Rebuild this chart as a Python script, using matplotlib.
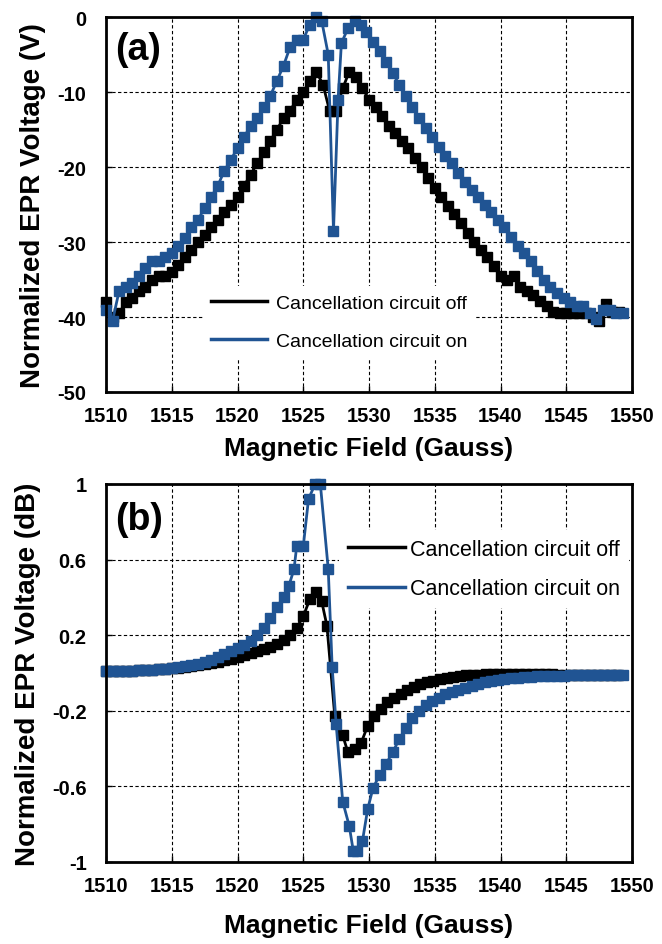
import numpy as np
import matplotlib
matplotlib.use("Agg")
import matplotlib.pyplot as plt
from matplotlib.lines import Line2D

plt.rcParams["font.family"] = ["Liberation Sans", "DejaVu Sans"]
plt.rcParams["axes.unicode_minus"] = False

# ── Daten (a): EPR-Spannung in V, 0.5-G-Raster fuer "off" ────────────────
off_a_volt = [
    -38, -40, -39.5, -38, -37.5, -36.5, -36, -35, -34.5, -34.5,
    -34, -33, -32, -31, -30, -29, -28, -27, -26, -25,
    -24, -22.5, -21, -19.5, -18, -16.5, -15, -13.5, -12.5, -11,
    -10, -8.5, -7.3, -9, -12.5, -12.5, -9.5, -7.3, -8, -9.5,
    -11, -12, -13.2, -14.5, -15.5, -16.5, -17.5, -18.8, -20, -21.5,
    -22.8, -24, -25.2, -26.3, -27.5, -28.8, -30, -31, -32, -33.2,
    -34.5, -35, -34.5, -36, -36.5, -37, -37.8, -38.5, -39.3, -39.5,
    -39.5, -39.5, -39.5, -39.5, -40, -40.5, -38.2, -39.3, -39.3,
]
off_a_field = 1510 + 0.5 * np.arange(len(off_a_volt))

on_a_field = [
    1510, 1510.5, 1511, 1511.5, 1512, 1512.5, 1513, 1513.5, 1514, 1514.5,
    1515, 1515.5, 1516, 1516.5, 1517, 1517.5, 1518, 1518.5, 1519, 1519.5,
    1520, 1520.5, 1521, 1521.5, 1522, 1522.5, 1523, 1523.5, 1524, 1524.5,
    1525, 1525.5, 1526, 1526.4, 1526.9, 1527.3, 1527.65, 1527.9, 1528.4, 1528.9,
    1529.4, 1529.8, 1530.3, 1530.8, 1531.3, 1531.8, 1532.3, 1532.8, 1533.3, 1533.8,
    1534.3, 1534.8, 1535.3, 1535.8, 1536.3, 1536.8, 1537.3, 1537.8, 1538.3, 1538.8,
    1539.3, 1539.8, 1540.3, 1540.8, 1541.3, 1541.8, 1542.3, 1542.8, 1543.3, 1543.8,
    1544.3, 1544.8, 1545.3, 1545.8, 1546.3, 1546.8, 1547.3, 1547.8, 1548.3, 1548.8, 1549.3,
]
on_a_volt = [
    -39, -40.5, -36.5, -36, -35.5, -34.5, -33.5, -32.5, -32.5, -32,
    -31.5, -30.5, -29.5, -28, -27, -25.5, -24, -22.5, -20.5, -19,
    -17.5, -16, -14.5, -13.5, -12, -10.5, -8.5, -6.5, -4, -3,
    -3, -1, 0, -0.5, -5, -28.5, -11, -3.5, -1.5, -0.5,
    -1, -2, -3.3, -4.5, -6, -7.5, -9, -10.5, -12, -13.5,
    -14.8, -16, -17.3, -18.5, -19.5, -20.8, -22, -23, -24, -25,
    -26, -27, -28, -29.3, -30.5, -31.5, -32.5, -33.8, -35, -36,
    -36.8, -37.5, -38, -38.5, -38.5, -39.5, -40.3, -39, -39, -39.5, -39.5,
]

# ── Daten (b): EPR-Spannung in dB ────────────────────────────────────────
off_b_field = [
    1510, 1510.5, 1511, 1511.5, 1512, 1512.5, 1513, 1513.5, 1514, 1514.5,
    1515, 1515.5, 1516, 1516.5, 1517, 1517.5, 1518, 1518.5, 1519, 1519.5,
    1520, 1520.5, 1521, 1521.5, 1522, 1522.5, 1523, 1523.5, 1524, 1524.5,
    1525, 1525.5, 1526, 1526.4, 1526.8, 1527.4, 1528.0, 1528.4, 1528.9, 1529.4,
    1529.9, 1530.4, 1530.9, 1531.4, 1531.9, 1532.4, 1532.9, 1533.4, 1533.9, 1534.4,
    1534.9, 1535.4, 1535.9, 1536.4, 1536.9, 1537.4, 1537.9, 1538.4, 1538.9, 1539.4,
    1539.9, 1540.4, 1540.9, 1541.4, 1541.9, 1542.4, 1542.9, 1543.4, 1543.9, 1544.4,
    1544.9, 1545.4, 1545.9, 1546.4, 1546.9, 1547.4, 1547.9, 1548.4, 1548.9,
]
off_b_db = [
    0.010, 0.010, 0.011, 0.012, 0.013, 0.014, 0.015, 0.017, 0.019, 0.021,
    0.024, 0.027, 0.031, 0.035, 0.040, 0.046, 0.052, 0.059, 0.067, 0.075,
    0.085, 0.095, 0.105, 0.115, 0.127, 0.140, 0.155, 0.175, 0.20, 0.24,
    0.30, 0.39, 0.43, 0.38, 0.25, -0.23, -0.33, -0.42, -0.40, -0.37,
    -0.28, -0.23, -0.19, -0.155, -0.13, -0.11, -0.09, -0.075, -0.06, -0.05,
    -0.04, -0.032, -0.026, -0.021, -0.017, -0.013, -0.010, -0.008, -0.006, -0.005,
    -0.004, -0.004, -0.004, -0.005, -0.005, -0.006, -0.006, -0.007, -0.007, -0.008,
    -0.008, -0.009, -0.009, -0.010, -0.010, -0.010, -0.011, -0.011, -0.011,
]

on_b_field = [
    1510, 1510.5, 1511, 1511.5, 1512, 1512.5, 1513, 1513.5, 1514, 1514.5,
    1515, 1515.5, 1516, 1516.5, 1517, 1517.5, 1518, 1518.5, 1519, 1519.5,
    1520, 1520.5, 1521, 1521.5, 1522, 1522.5, 1523, 1523.5, 1523.9, 1524.3,
    1524.5, 1525.0, 1525.4, 1525.9, 1526.3, 1526.9, 1527.2, 1527.5, 1528.0, 1528.5,
    1528.8, 1529.1, 1529.5, 1529.9, 1530.3, 1530.8, 1531.3, 1531.8, 1532.3, 1532.8,
    1533.3, 1533.8, 1534.3, 1534.8, 1535.3, 1535.8, 1536.3, 1536.8, 1537.3, 1537.8,
    1538.3, 1538.8, 1539.3, 1539.8, 1540.3, 1540.8, 1541.3, 1541.8, 1542.3, 1542.8,
    1543.3, 1543.8, 1544.3, 1544.8, 1545.3, 1545.8, 1546.3, 1546.8, 1547.3, 1547.8,
    1548.3, 1548.8, 1549.3,
]
on_b_db = [
    0.010, 0.010, 0.011, 0.012, 0.013, 0.014, 0.016, 0.018, 0.020, 0.023,
    0.027, 0.031, 0.036, 0.042, 0.050, 0.059, 0.070, 0.083, 0.098, 0.115,
    0.13, 0.15, 0.17, 0.20, 0.24, 0.29, 0.35, 0.40, 0.46, 0.55,
    0.67, 0.67, 0.92, 1.0, 1.0, 0.55, 0.03, -0.27, -0.68, -0.81,
    -0.94, -0.94, -0.89, -0.72, -0.61, -0.54, -0.48, -0.42, -0.35, -0.29,
    -0.24, -0.20, -0.17, -0.15, -0.13, -0.11, -0.10, -0.09, -0.08, -0.07,
    -0.06, -0.05, -0.043, -0.037, -0.032, -0.028, -0.024, -0.021, -0.019, -0.017,
    -0.016, -0.015, -0.014, -0.014, -0.013, -0.013, -0.013, -0.013, -0.013, -0.013,
    -0.013, -0.013, -0.013,
]

field_ticks = list(range(1510, 1551, 5))
volt_ticks = [-50, -40, -30, -20, -10, 0]
db_ticks = [-1, -0.6, -0.2, 0.2, 0.6, 1]
db_tick_labels = ["-1", "-0.6", "-0.2", "0.2", "0.6", "1"]
series_labels = ["Cancellation circuit off", "Cancellation circuit on"]

BLUE = "#205493"
W, H = 662, 945

fig = plt.figure(figsize=(W / 100, H / 100), dpi=100, facecolor="white")


def px_axes(left, top, right, bottom):
    return fig.add_axes([left / W, 1 - bottom / H, (right - left) / W, (bottom - top) / H])


def style(ax, ylabel, tag, tag_y, xlabelpad):
    ax.set_xlim(1510, 1550)
    ax.set_xticks(field_ticks)
    ax.grid(True, color="black", linestyle=(0, (3, 2.2)), linewidth=0.8)
    ax.set_axisbelow(True)
    for sp in ax.spines.values():
        sp.set_linewidth(2.0)
        sp.set_color("black")
    ax.tick_params(direction="in", length=4, width=1, labelsize=14.5)
    ax.tick_params(axis="x", pad=10)
    ax.tick_params(axis="y", pad=14)
    for lab in ax.get_xticklabels() + ax.get_yticklabels():
        lab.set_fontweight("bold")
    ax.set_xlabel("Magnetic Field (Gauss)", fontsize=19, fontweight="bold",
                  labelpad=xlabelpad)
    ax.set_ylabel(ylabel, fontsize=20, fontweight="bold", labelpad=8)
    ax.text(0.017, tag_y, tag, transform=ax.transAxes, fontsize=27,
            fontweight="bold", ha="left", va="center")


def add_legend(ax, x_px, y_px, fs, hl, htp, ls):
    handles = [Line2D([], [], color="black", lw=2.5),
               Line2D([], [], color=BLUE, lw=2.5)]
    ax.legend(handles, series_labels, loc="center left",
              bbox_to_anchor=(x_px / W, 1 - y_px / H),
              bbox_transform=fig.transFigure, fontsize=fs,
              frameon=True, facecolor="white", edgecolor="none",
              framealpha=1, fancybox=False, borderpad=0.4,
              handlelength=hl, handletextpad=htp, labelspacing=ls,
              borderaxespad=0)


mk = dict(marker="s", markersize=6.8, linewidth=2.0, clip_on=False)

# ── (a) ──────────────────────────────────────────────────────────────────
ax_a = px_axes(106, 18, 632, 393)
ax_a.plot(off_a_field, off_a_volt, color="black", **mk)
ax_a.plot(on_a_field, on_a_volt, color=BLUE, **mk)
ax_a.set_ylim(-50, 0)
ax_a.set_yticks(volt_ticks)
style(ax_a, "Normalized EPR Voltage (V)", "(a)", 0.915, 8)
add_legend(ax_a, 203, 323, 14, 2.9, 0.45, 1.05)

# ── (b) ──────────────────────────────────────────────────────────────────
ax_b = px_axes(106, 485, 632, 863)
ax_b.plot(off_b_field, off_b_db, color="black", **mk)
ax_b.plot(on_b_field, on_b_db, color=BLUE, **mk)
ax_b.set_ylim(-1, 1)
ax_b.set_yticks(db_ticks, db_tick_labels)
style(ax_b, "Normalized EPR Voltage (dB)", "(b)", 0.907, 13)
add_legend(ax_b, 339, 570, 15.5, 2.65, 0.25, 0.85)

fig.savefig("out.png", dpi=100, facecolor="white")
